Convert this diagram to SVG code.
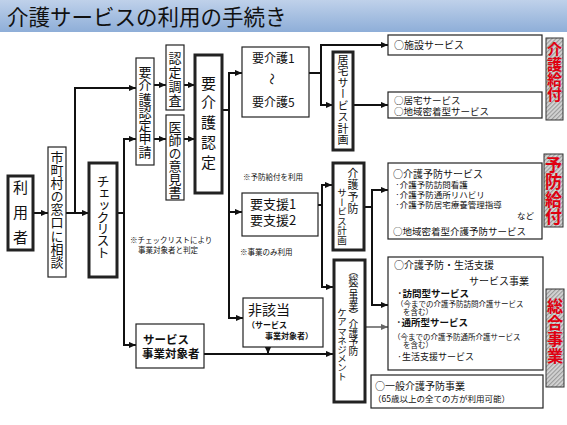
<svg xmlns="http://www.w3.org/2000/svg" width="567" height="425" viewBox="0 0 567 425">
<defs>
<linearGradient id="tg" x1="0" y1="0" x2="0" y2="1"><stop offset="0" stop-color="#bfd1ea"/><stop offset="1" stop-color="#8eaed8"/></linearGradient>
<pattern id="hatch" width="3" height="3" patternUnits="userSpaceOnUse" patternTransform="rotate(45)"><rect width="3" height="3" fill="#d6d6d6"/><rect width="1.2" height="3" fill="#9a9a9a"/></pattern>
<marker id="ah" viewBox="0 0 8 8" refX="8" refY="4" markerWidth="7" markerHeight="7" markerUnits="userSpaceOnUse" orient="auto"><path d="M0,0.5 L8,4 L0,7.5 z" fill="#111"/></marker>
<marker id="ahg" viewBox="0 0 8 8" refX="8" refY="4" markerWidth="7" markerHeight="7" markerUnits="userSpaceOnUse" orient="auto"><path d="M0,0.5 L8,4 L0,7.5 z" fill="#666"/></marker>
<style>
text { font-family: "Noto Sans CJK JP", "Noto Sans", sans-serif; fill: #111; }
.v { writing-mode: vertical-rl; }
.box { fill: #fff; stroke: #222; stroke-width: 1.2; }
.thick { fill: #fff; stroke: #222; stroke-width: 3; }
.lab { fill: url(#hatch); stroke: #333; stroke-width: 1; }
.red { fill: #e00010; font-weight: bold; }
.con { fill: none; stroke: #111; stroke-width: 2; }
.arr { marker-end: url(#ah); }
.note { font-size: 7.5px; }
.b { font-weight: bold; }
</style>
</defs>
<rect width="567" height="425" fill="#fff"/>
<g id="title">
<rect x="0" y="0" width="567" height="32" fill="url(#tg)"/>
<text x="7" y="25" font-size="21.5" fill="#1a1a1a">介護サービスの利用の手続き</text>
</g>

<g id="connectors">
<path class="con arr" d="M33,213 H48"/>
<path class="con arr" d="M66,213 H89"/>
<path class="con arr" d="M75,213 V88 H136"/>
<path class="con" d="M117,213 H124"/>
<path class="con arr" d="M124,345 V139 H136"/>
<path class="con arr" d="M124,213 V345 H136"/>
<path class="con arr" d="M154,85 H166"/>
<path class="con arr" d="M154,139 H166"/>
<path class="con arr" d="M184,85 H195"/>
<path class="con arr" d="M184,139 H195"/>
<path class="con" d="M222,110 H229"/>
<path class="con arr" d="M229,318 V73 H242"/>
<path class="con arr" d="M229,212 H242"/>
<path class="con arr" d="M229,212 V318 H243"/>
<path class="con" d="M309,73 H321"/>
<path class="con arr" d="M321,105 V45 H388"/>
<path class="con arr" d="M321,73 V105 H333"/>
<path class="con arr" d="M353,105 H388"/>
<path class="con" d="M318,205 H322"/>
<path class="con arr" d="M322,287 V185 H332"/>
<path class="con arr" d="M322,205 V287 H333"/>
<path class="con" d="M364,207 H372"/>
<path class="con arr" d="M372,305 V190 H388"/>
<path class="con arr" d="M372,207 V305 H388"/>
<path d="M365,327 H388" fill="none" stroke="#666" stroke-width="1.6" marker-end="url(#ahg)"/>
<path class="con arr" d="M204,354 H333"/>
<path class="con arr" d="M268,347 V354"/>
</g>

<g id="riyosha">
<rect class="thick" x="8" y="176" width="25" height="74"/>
<text class="v" x="20.5" y="179.5" font-size="15" letter-spacing="10">利用者</text>
</g>
<g id="madoguchi">
<rect class="box" x="48" y="147" width="18" height="130"/>
<text class="v" x="57" y="150.5" font-size="13" letter-spacing="0.1">市町村の窓口に相談</text>
</g>
<g id="checklist">
<rect class="thick" x="89" y="163" width="28" height="114"/>
<text class="v" x="103" y="175" font-size="13" letter-spacing="-1.3">チェックリスト</text>
</g>
<g id="shinsei">
<rect class="box" x="136" y="58" width="18" height="107"/>
<text class="v" x="145" y="65.5" font-size="13" letter-spacing="0.3">要介護認定申請</text>
</g>
<g id="chosa">
<rect class="box" x="166" y="45" width="18" height="65"/>
<text class="v" x="175" y="51.5" font-size="13" letter-spacing="1">認定調査</text>
</g>
<g id="ikensho">
<rect class="box" x="166" y="115" width="18" height="85"/>
<text class="v" x="175" y="120.5" font-size="13" letter-spacing="0">医師の意見書</text>
</g>
<g id="nintei">
<rect class="thick" x="195" y="55" width="27" height="138"/>
<text class="v" x="208.5" y="75.5" font-size="15" letter-spacing="4.75">要介護認定</text>
</g>
<g id="yokaigo">
<rect class="box" x="242" y="47" width="67" height="70"/>
<text x="252" y="62.5" font-size="12">要介護1</text>
<text transform="translate(271,79) rotate(90)" text-anchor="middle" dy="0.35em" font-size="12">～</text>
<text x="252" y="106.5" font-size="12">要介護5</text>
</g>
<g id="kyotakukeikaku">
<rect class="thick" x="333" y="52" width="20" height="98"/>
<text class="v" x="343" y="54" font-size="11" letter-spacing="0.5">居宅サービス計画</text>
</g>
<g id="shisetsu">
<rect class="box" x="388" y="35" width="154" height="20"/>
<text x="394" y="49" font-size="10">○施設サービス</text>
</g>
<g id="kyotaku">
<rect class="box" x="388" y="92" width="154" height="26"/>
<text x="394" y="103.5" font-size="9.5">○居宅サービス</text>
<text x="394" y="114.5" font-size="9.5">○地域密着型サービス</text>
</g>
<g id="kaigokyufu">
<rect class="lab" x="546" y="38" width="17" height="82"/>
<text class="v red" x="554.5" y="42" font-size="15">介護給付</text>
</g>

<g id="notes">
<text class="note" x="243" y="180">※予防給付を利用</text>
<text class="note" x="240" y="255">※事業のみ利用</text>
<text class="note" x="130" y="243">※チェックリストにより</text>
<text class="note" x="138" y="253">事業対象者と判定</text>
</g>

<g id="yoshien">
<rect class="box" x="242" y="193" width="76" height="43"/>
<text x="250" y="209" font-size="13">要支援1</text>
<text x="250" y="225" font-size="13">要支援2</text>
</g>
<g id="yobokeikaku">
<rect class="thick" x="333" y="163" width="31" height="87"/>
<text class="v" x="353" y="167" font-size="11" letter-spacing="1">介護予防</text>
<text class="v" x="342" y="188" font-size="9.5">サービス計画</text>
</g>
<g id="yoboservice">
<rect class="box" x="388" y="163" width="154" height="76"/>
<text x="393" y="177.5" font-size="10">○介護予防サービス</text>
<text x="395" y="187.5" font-size="8.5">·介護予防訪問看護</text>
<text x="395" y="197.5" font-size="8.5">·介護予防通所リハビリ</text>
<text x="395" y="207.5" font-size="8.5">·介護予防居宅療養管理指導</text>
<text x="517" y="219" font-size="8.5">など</text>
<text x="393" y="234.5" font-size="9.5">○地域密着型介護予防サービス</text>
</g>
<g id="yobokyufu">
<rect class="lab" x="544" y="154" width="19" height="73"/>
<text class="v red" x="553.5" y="156" font-size="17" letter-spacing="0.5">予防給付</text>
</g>

<g id="higaito">
<rect class="box" x="243" y="298" width="80" height="49"/>
<text x="248" y="315" font-size="14">非該当</text>
<text class="b" x="247" y="327.5" font-size="8">（サービス</text>
<text class="b" x="265" y="338.5" font-size="8">事業対象者）</text>
</g>
<g id="jigyotaisho">
<rect class="box" x="136" y="324" width="68" height="44"/>
<text class="b" x="143" y="344" font-size="11.5">サービス</text>
<text class="b" x="142" y="358" font-size="11.5">事業対象者</text>
</g>
<g id="caremanagement">
<rect class="thick" x="334" y="260" width="31" height="142"/>
<text class="v" x="353.5" y="266" font-size="9.8" letter-spacing="-0.9">（総合事業）介護予防</text>
<text class="v" x="342" y="308" font-size="9.5" letter-spacing="-0.4">ケアマネジメント</text>
</g>
<g id="seikatsushien">
<rect class="box" x="388" y="257" width="155" height="113"/>
<text x="394" y="269" font-size="10">○介護予防・生活支援</text>
<text x="469" y="285" font-size="10">サービス事業</text>
<text class="b" x="397" y="297" font-size="9.5">·訪問型サービス</text>
<text x="396" y="306.5" font-size="7.5">（今までの介護予防訪問介護サービス</text>
<text x="403" y="315" font-size="7.5">を含む）</text>
<text class="b" x="396" y="326" font-size="9.5">·通所型サービス</text>
<text x="393" y="339.5" font-size="7.5">（今までの介護予防通所介護サービス</text>
<text x="403" y="348" font-size="7.5">を含む）</text>
<text x="397" y="359.5" font-size="9">·生活支援サービス</text>
</g>
<g id="ippan">
<rect class="box" x="371" y="375" width="172" height="33"/>
<text x="375" y="390" font-size="10">○一般介護予防事業</text>
<text x="373" y="401.5" font-size="8.5">（65歳以上の全ての方が利用可能）</text>
</g>
<g id="sogojigyo">
<rect class="lab" x="546" y="289" width="18" height="98"/>
<text class="v red" x="555" y="298" font-size="16" letter-spacing="0.5">総合事業</text>
</g>
</svg>
